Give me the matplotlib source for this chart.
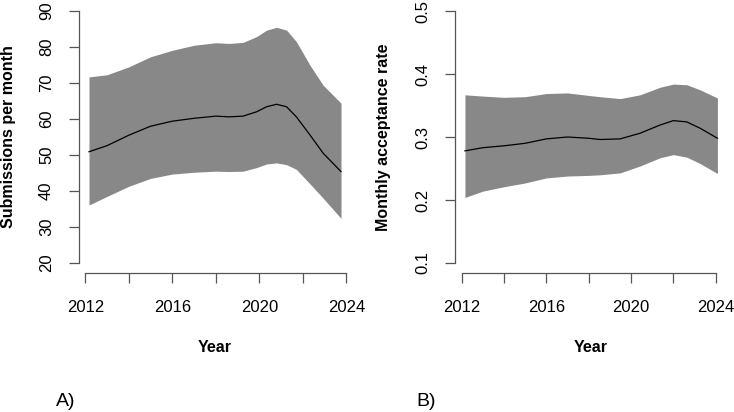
import numpy as np
from matplotlib import pyplot as plt

plt.rcParams['font.family'] = ['Liberation Sans', 'DejaVu Sans']

# Panel A: submissions per month (smoothed mean and band)
years_a = [2012.17, 2013, 2014, 2015, 2016, 2017, 2018, 2018.6, 2019.25, 2019.87,
           2020.33, 2020.79, 2021.25, 2021.7, 2022.32, 2022.93, 2023.75]
sub_mean = [50.9, 52.6, 55.5, 58.0, 59.4, 60.2, 60.8, 60.6, 60.8, 62.0,
            63.4, 64.1, 63.4, 60.6, 55.6, 50.5, 45.4]
sub_upper = [71.7, 72.3, 74.5, 77.3, 79.1, 80.5, 81.2, 81.0, 81.3, 82.9,
             84.7, 85.5, 84.7, 81.5, 75.0, 69.4, 64.4]
sub_lower = [36.1, 38.5, 41.3, 43.5, 44.7, 45.2, 45.5, 45.4, 45.5, 46.5,
             47.5, 47.8, 47.3, 46.0, 42.0, 38.0, 32.4]

# Panel B: monthly acceptance rate
years_b = [2012.16, 2013, 2014, 2015, 2016, 2017, 2018, 2018.54, 2019.49, 2020.43,
           2021.37, 2022.0, 2022.63, 2023.26, 2024.08]
acc_mean = [0.278, 0.283, 0.286, 0.290, 0.297, 0.300, 0.298, 0.296, 0.297, 0.306,
            0.319, 0.326, 0.324, 0.314, 0.298]
acc_upper = [0.367, 0.365, 0.363, 0.364, 0.369, 0.370, 0.366, 0.364, 0.361, 0.367,
             0.379, 0.384, 0.383, 0.375, 0.362]
acc_lower = [0.204, 0.214, 0.221, 0.227, 0.235, 0.238, 0.239, 0.240, 0.243, 0.254,
             0.267, 0.272, 0.268, 0.258, 0.242]

x_ticks = np.arange(2012, 2025, 2)
x_labels = ['2012', '', '2016', '', '2020', '', '2024']

W, H = 734, 412
fig = plt.figure(figsize=(W / 100, H / 100), dpi=100)


def px_axes(left, right, top, bottom):
    return fig.add_axes([left / W, 1 - bottom / H, (right - left) / W, (bottom - top) / H])


def r_style(ax, xlim, ylim, yticks, ylabels, ylabel, ylab_x):
    ax.set_xlim(*xlim)
    ax.set_ylim(*ylim)
    for s in ['top', 'right']:
        ax.spines[s].set_visible(False)
    for s in ['left', 'bottom']:
        ax.spines[s].set_color('#555555')
        ax.spines[s].set_linewidth(0.9)
    ax.spines['bottom'].set_bounds(2012, 2024)
    ax.spines['left'].set_bounds(yticks[0], yticks[-1])
    ax.set_xticks(x_ticks)
    ax.set_xticklabels(x_labels, fontsize=12)
    ax.set_yticks(yticks)
    ax.set_yticklabels(ylabels, fontsize=12, rotation=90, va='center')
    ax.tick_params(axis='x', length=7.5, width=0.9, color='#555555', pad=12)
    ax.tick_params(axis='y', length=7.5, width=0.9, color='#555555', pad=10.5)
    ax.set_xlabel('Year', fontsize=11.5, fontweight='bold', va='center')
    ax.set_ylabel(ylabel, fontsize=11.5, fontweight='bold', va='center')
    ax.yaxis.set_label_coords(ylab_x / W, 1 - 137 / H, transform=fig.transFigure)


ax1 = px_axes(79, 351, 1, 273)
ax1.fill_between(years_a, sub_lower, sub_upper, color='#888888', linewidth=0)
ax1.plot(years_a, sub_mean, color='black', linewidth=0.9)
r_style(ax1, (2011.71, 2024.21), (17.2, 92.8), np.arange(20, 91, 10),
        [str(v) for v in range(20, 91, 10)], 'Submissions per month', 9)
ax1.xaxis.set_label_coords(215 / W, 1 - 347 / H, transform=fig.transFigure)

ax2 = px_axes(455, 728, 1, 273)
ax2.fill_between(years_b, acc_lower, acc_upper, color='#888888', linewidth=0)
ax2.plot(years_b, acc_mean, color='black', linewidth=0.9)
yt = [0.1, 0.2, 0.3, 0.4, 0.5]
r_style(ax2, (2011.69, 2024.58), (0.084, 0.516), yt,
        [str(v) for v in yt], 'Monthly acceptance rate', 384)
ax2.xaxis.set_label_coords(591 / W, 1 - 347 / H, transform=fig.transFigure)

fig.text(56 / W, 1 - 402 / H, 'A)', fontsize=14, va='center', ha='left')
fig.text(416 / W, 1 - 402 / H, 'B)', fontsize=14, va='center', ha='left')

fig.savefig('out.png', dpi=100)
